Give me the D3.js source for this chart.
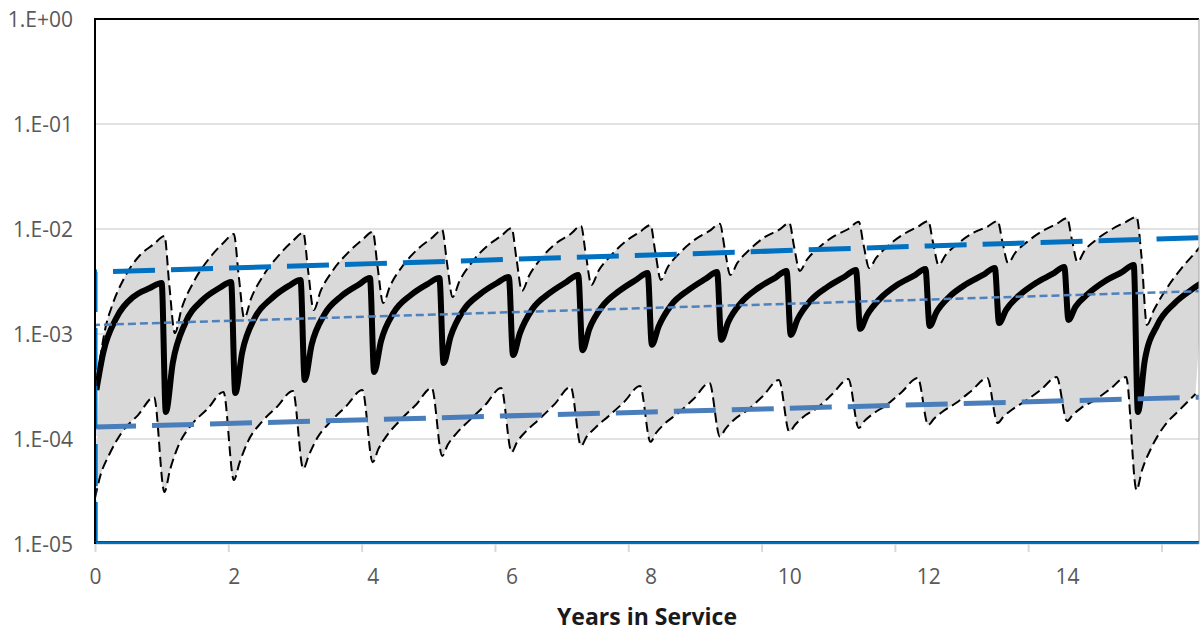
<!DOCTYPE html>
<html>
<head>
<meta charset="utf-8">
<script src="https://cdn.jsdelivr.net/npm/d3@7"></script>
<style>
  body { margin: 0; background: #fff; }
  svg text { font-family: "Open Sans", sans-serif; }
</style>
</head>
<body>
<svg id="chart" width="1200" height="631"></svg>
<script>
// log axis ticks
const yTicks = [1e-5, 1e-4, 1e-3, 1e-2, 1e-1, 1];
const yTickLabels = ['1.E-05', '1.E-04', '1.E-03', '1.E-02', '1.E-01', '1.E+00'];
const xLabelYears = [0, 2, 4, 6, 8, 10, 12, 14];
const tickMarkYears = [0, 1.92, 3.84, 5.76, 7.68, 9.6, 11.52, 13.44, 15.36];

// mean curve, one row per test interval (year n + offset)
const meanOffsets = [0.02, 0.12, 0.30, 0.55, 0.79, 0.96];
const meanRows = [
  [2.93e-4, 6.7e-4, 1.39e-3, 2.25e-3, 2.74e-3, 3.06e-3],
  [1.81e-4, 5.3e-4, 1.27e-3, 2.11e-3, 2.74e-3, 3.13e-3],
  [2.74e-4, 6.7e-4, 1.42e-3, 2.20e-3, 2.87e-3, 3.27e-3],
  [3.65e-4, 7.9e-4, 1.52e-3, 2.30e-3, 2.93e-3, 3.41e-3],
  [4.35e-4, 8.6e-4, 1.59e-3, 2.35e-3, 2.99e-3, 3.41e-3],
  [5.3e-4, 9.4e-4, 1.66e-3, 2.41e-3, 3.06e-3, 3.49e-3],
  [6.3e-4, 1.02e-3, 1.73e-3, 2.46e-3, 3.13e-3, 3.65e-3],
  [7.0e-4, 1.12e-3, 1.81e-3, 2.57e-3, 3.27e-3, 3.81e-3],
  [7.9e-4, 1.19e-3, 1.89e-3, 2.63e-3, 3.34e-3, 3.89e-3],
  [8.8e-4, 1.30e-3, 1.97e-3, 2.74e-3, 3.41e-3, 3.98e-3],
  [9.8e-4, 1.39e-3, 2.06e-3, 2.81e-3, 3.49e-3, 4.07e-3],
  [1.12e-3, 1.52e-3, 2.15e-3, 2.93e-3, 3.57e-3, 4.16e-3],
  [1.19e-3, 1.62e-3, 2.25e-3, 2.99e-3, 3.65e-3, 4.25e-3],
  [1.27e-3, 1.69e-3, 2.30e-3, 3.06e-3, 3.73e-3, 4.35e-3],
  [1.36e-3, 1.81e-3, 2.41e-3, 3.20e-3, 3.89e-3, 4.54e-3],
  [1.81e-4, 5.65e-4, 1.22e-3, 1.97e-3, 2.63e-3, 3.13e-3]
];

// upper bound (lags the mean)
const upperOffsets = [0.07, 0.15, 0.25, 0.42, 0.65, 0.85, 1.0];
const upperRows = [
  [5.65e-4, 1.14e-3, 1.89e-3, 3.41e-3, 5.65e-3, 7.2e-3, 8.6e-3],
  [2.93e-3, 1.02e-3, 1.77e-3, 3.13e-3, 5.3e-3, 7.4e-3, 8.96e-3],
  [3.57e-3, 1.42e-3, 2.20e-3, 3.57e-3, 5.65e-3, 7.7e-3, 9.2e-3],
  [3.98e-3, 1.69e-3, 2.57e-3, 3.98e-3, 6.0e-3, 7.9e-3, 9.4e-3],
  [4.35e-3, 1.97e-3, 2.87e-3, 4.35e-3, 6.45e-3, 8.2e-3, 9.8e-3],
  [4.74e-3, 2.25e-3, 3.20e-3, 4.74e-3, 6.9e-3, 8.6e-3, 1.02e-2],
  [5.2e-3, 2.57e-3, 3.57e-3, 5.2e-3, 7.4e-3, 8.96e-3, 1.07e-2],
  [5.65e-3, 2.93e-3, 3.98e-3, 5.5e-3, 7.7e-3, 9.4e-3, 1.09e-2],
  [6.0e-3, 3.27e-3, 4.35e-3, 5.9e-3, 8.0e-3, 9.6e-3, 1.12e-2],
  [6.45e-3, 3.65e-3, 4.74e-3, 6.3e-3, 8.4e-3, 9.8e-3, 1.14e-2],
  [6.7e-3, 3.98e-3, 5.07e-3, 6.6e-3, 8.6e-3, 1.00e-2, 1.17e-2],
  [7.0e-3, 4.25e-3, 5.3e-3, 6.9e-3, 8.96e-3, 1.05e-2, 1.19e-2],
  [7.4e-3, 4.54e-3, 5.65e-3, 7.2e-3, 9.2e-3, 1.05e-2, 1.19e-2],
  [7.5e-3, 4.74e-3, 5.9e-3, 7.5e-3, 9.6e-3, 1.12e-2, 1.27e-2],
  [7.9e-3, 4.85e-3, 6.2e-3, 7.9e-3, 1.00e-2, 1.17e-2, 1.30e-2],
  [5.65e-3, 1.22e-3, 1.69e-3, 2.63e-3, 4.25e-3, 6.0e-3, 7.9e-3]
];

// lower bound (leads the mean)
const lowerOffsets = [0.0, 0.08, 0.2, 0.4, 0.62, 0.85];
const lowerRows = [
  [2.74e-5, 4.54e-5, 7.0e-5, 1.19e-4, 1.69e-4, 2.51e-4],
  [3.13e-5, 5.07e-5, 8.6e-5, 1.39e-4, 1.93e-4, 2.81e-4],
  [4.07e-5, 5.9e-5, 9.4e-5, 1.45e-4, 2.02e-4, 2.87e-4],
  [5.2e-5, 7.0e-5, 1.02e-4, 1.48e-4, 2.06e-4, 2.93e-4],
  [6.0e-5, 8.0e-5, 1.07e-4, 1.52e-4, 2.11e-4, 3.06e-4],
  [6.9e-5, 8.8e-5, 1.12e-4, 1.52e-4, 2.11e-4, 3.06e-4],
  [7.5e-5, 9.4e-5, 1.17e-4, 1.55e-4, 2.15e-4, 3.13e-4],
  [8.6e-5, 1.05e-4, 1.27e-4, 1.66e-4, 2.25e-4, 3.20e-4],
  [9.4e-5, 1.14e-4, 1.39e-4, 1.77e-4, 2.40e-4, 3.41e-4],
  [1.05e-4, 1.25e-4, 1.52e-4, 1.89e-4, 2.57e-4, 3.65e-4],
  [1.17e-4, 1.36e-4, 1.62e-4, 1.97e-4, 2.68e-4, 3.73e-4],
  [1.27e-4, 1.48e-4, 1.73e-4, 2.11e-4, 2.81e-4, 3.81e-4],
  [1.36e-4, 1.55e-4, 1.81e-4, 2.20e-4, 2.87e-4, 3.81e-4],
  [1.42e-4, 1.62e-4, 1.89e-4, 2.30e-4, 2.93e-4, 3.89e-4],
  [1.48e-4, 1.69e-4, 1.97e-4, 2.35e-4, 2.99e-4, 3.89e-4],
  [3.27e-5, 5.07e-5, 7.9e-5, 1.33e-4, 1.89e-4, 2.68e-4]
];

// blue reference lines
const refYears = [0, 0, 4, 8, 12, 16];
const refHigh = [1e-5, 3.89e-3, 4.68e-3, 5.65e-3, 6.9e-3, 8.3e-3];
const refMid = [1e-5, 1.22e-3, 1.47e-3, 1.77e-3, 2.13e-3, 2.57e-3];
const refLow = [1e-5, 1.30e-4, 1.53e-4, 1.81e-4, 2.13e-4, 2.51e-4];

const svg = d3.select('#chart');
const plotLeft = 95, plotRight = 1199, plotTop = 19, plotBottom = 544;

const x = d3.scaleLinear().domain([0, 15.9]).range([plotLeft, plotRight]);
const y = d3.scaleLog().domain([1e-5, 1]).range([plotBottom, plotTop]);

function toPoints(rows, offsets) {
  let pts = [];
  rows.forEach((row, n) => {
    row.forEach((v, i) => pts.push([n + offsets[i], v]));
  });
  return pts;
}

const meanPts = toPoints(meanRows, meanOffsets);
const upperPts = toPoints(upperRows, upperOffsets);
const lowerPts = toPoints(lowerRows, lowerOffsets);

svg.append('defs').append('clipPath').attr('id', 'plot')
  .append('rect')
  .attr('x', plotLeft).attr('y', plotTop)
  .attr('width', plotRight - plotLeft).attr('height', plotBottom - plotTop);

// gridlines
svg.append('g')
  .selectAll('line')
  .data(yTicks)
  .join('line')
  .attr('x1', plotLeft).attr('x2', plotRight)
  .attr('y1', d => y(d)).attr('y2', d => y(d))
  .attr('stroke', '#d9d9d9')
  .attr('stroke-width', 1.5);

const smooth = d3.line()
  .x(d => x(d[0]))
  .y(d => y(d[1]))
  .curve(d3.curveMonotoneX);

const straight = d3.line()
  .x(d => x(d[0]))
  .y(d => y(d[1]));

const plot = svg.append('g').attr('clip-path', 'url(#plot)');

// grey band between bounds
const upperD = smooth(upperPts);
const lowerD = smooth(lowerPts.slice().reverse());
plot.append('path')
  .attr('d', upperD + 'L' + lowerD.slice(1) + 'Z')
  .attr('fill', '#d9d9d9');

plot.append('path')
  .attr('d', smooth(upperPts))
  .attr('fill', 'none')
  .attr('stroke', '#000')
  .attr('stroke-width', 2)
  .attr('stroke-dasharray', '10,5');

plot.append('path')
  .attr('d', smooth(lowerPts))
  .attr('fill', 'none')
  .attr('stroke', '#000')
  .attr('stroke-width', 2)
  .attr('stroke-dasharray', '10,5');

plot.append('path')
  .attr('d', smooth(meanPts))
  .attr('fill', 'none')
  .attr('stroke', '#000')
  .attr('stroke-width', 6)
  .attr('stroke-linejoin', 'round');

// bottom blue trace along 1.E-05
plot.append('line')
  .attr('x1', plotLeft).attr('x2', plotRight)
  .attr('y1', y(1e-5) - 1).attr('y2', y(1e-5) - 1)
  .attr('stroke', '#0070c0')
  .attr('stroke-width', 3);

const refs = [
  { vals: refLow, color: '#4a7ebb', width: 5, dash: '42,16' },
  { vals: refMid, color: '#4f81bd', width: 2.5, dash: '8,4' },
  { vals: refHigh, color: '#0070c0', width: 5, dash: '42,16' }
];

refs.forEach(r => {
  plot.append('path')
    .attr('d', straight(refYears.map((t, i) => [t, r.vals[i]])))
    .attr('fill', 'none')
    .attr('stroke', r.color)
    .attr('stroke-width', r.width)
    .attr('stroke-dasharray', r.dash);
});

// frame
svg.append('line')
  .attr('x1', plotLeft).attr('x2', plotRight).attr('y1', plotTop).attr('y2', plotTop)
  .attr('stroke', '#000').attr('stroke-width', 2);
svg.append('line')
  .attr('x1', plotLeft).attr('x2', plotLeft).attr('y1', plotTop - 1).attr('y2', plotBottom)
  .attr('stroke', '#000').attr('stroke-width', 2);
svg.append('line')
  .attr('x1', plotRight).attr('x2', plotRight).attr('y1', plotTop).attr('y2', plotBottom)
  .attr('stroke', '#a6a6a6').attr('stroke-width', 1);
svg.append('line')
  .attr('x1', plotLeft).attr('x2', plotRight).attr('y1', plotBottom - 2.5).attr('y2', plotBottom - 2.5)
  .attr('stroke', '#404040').attr('stroke-width', 1);

// axes
svg.append('g')
  .attr('transform', `translate(${plotLeft},0)`)
  .call(d3.axisLeft(y).tickValues(yTicks).tickFormat((d, i) => yTickLabels[i]).tickSize(0).tickPadding(22))
  .call(g => g.select('.domain').remove())
  .selectAll('text')
  .attr('font-size', 21)
  .attr('fill', '#595959')
  .attr('dy', '0.38em');

svg.append('g')
  .attr('transform', `translate(0,${plotBottom})`)
  .call(d3.axisBottom(x).tickValues(tickMarkYears).tickSize(8).tickFormat(''))
  .call(g => g.select('.domain').remove())
  .selectAll('line')
  .attr('stroke', '#d9d9d9')
  .attr('stroke-width', 2);

svg.append('g')
  .attr('transform', `translate(0,${plotBottom})`)
  .call(d3.axisBottom(x).tickValues(xLabelYears).tickSize(0).tickPadding(25))
  .call(g => g.select('.domain').remove())
  .selectAll('text')
  .attr('font-size', 21)
  .attr('fill', '#595959');

svg.append('text')
  .attr('x', (plotLeft + plotRight) / 2)
  .attr('y', 625)
  .attr('text-anchor', 'middle')
  .attr('font-size', 23)
  .attr('font-weight', 'bold')
  .attr('fill', '#1a1a1a')
  .text('Years in Service');
</script>
</body>
</html>
